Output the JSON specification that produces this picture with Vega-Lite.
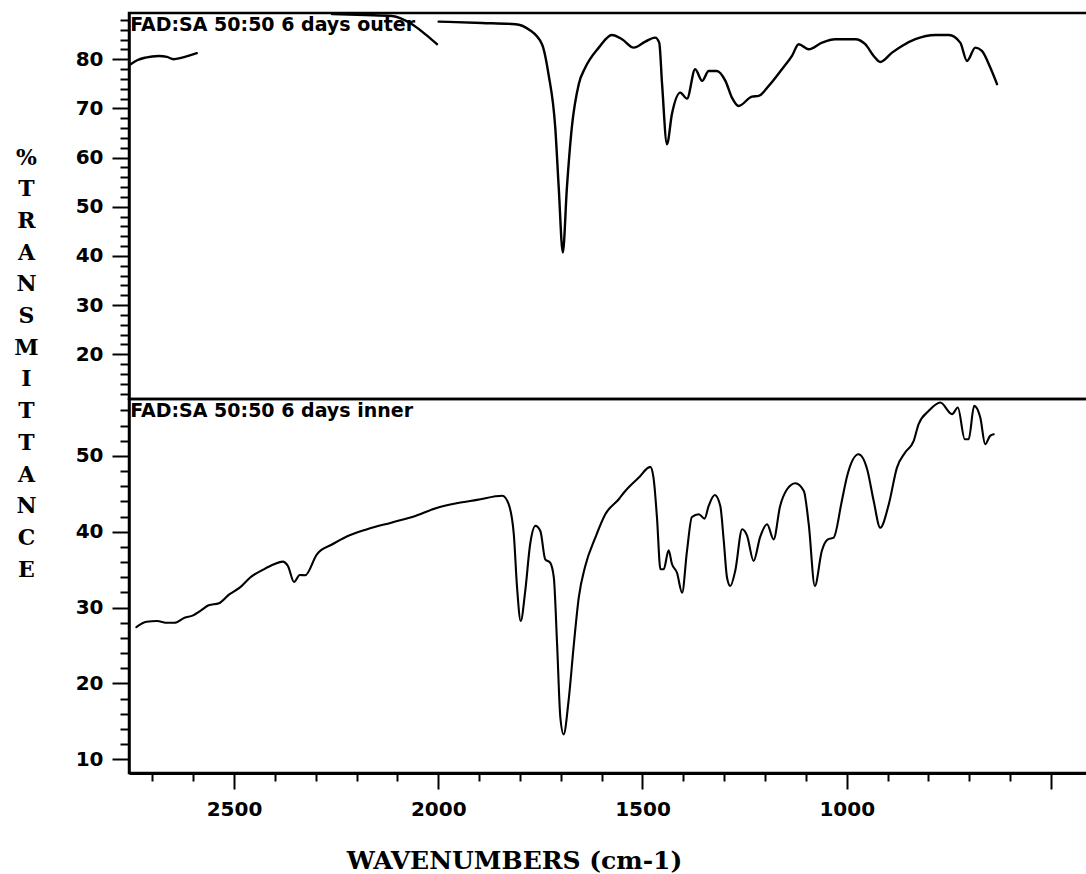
{
  "$schema": "https://vega.github.io/schema/vega-lite/v6.json",
  "background": "white",
  "padding": {"left": 12, "top": 11, "right": 0, "bottom": 0},
  "bounds": "flush",
  "spacing": 0,
  "config": {
    "view": {"stroke": "black", "strokeWidth": 2.5},
    "axis": {
      "grid": false,
      "domainColor": "black",
      "tickColor": "black",
      "labelColor": "black",
      "titleColor": "black",
      "labelFont": "DejaVu Sans",
      "labelFontWeight": "bold",
      "labelFontSize": 20,
      "labelOverlap": false,
      "labelFlush": false,
      "labelBound": false,
      "tickWidth": 2,
      "domainWidth": 2.5
    }
  },
  "datasets": {
    "outer": [
      {"trace": "a", "wavenumber": 2753, "transmittance": 78.98},
      {"trace": "a", "wavenumber": 2737, "transmittance": 79.8},
      {"trace": "a", "wavenumber": 2717, "transmittance": 80.33},
      {"trace": "a", "wavenumber": 2684, "transmittance": 80.67},
      {"trace": "a", "wavenumber": 2664, "transmittance": 80.47},
      {"trace": "a", "wavenumber": 2648, "transmittance": 80.0},
      {"trace": "a", "wavenumber": 2627, "transmittance": 80.33},
      {"trace": "a", "wavenumber": 2591, "transmittance": 81.22},
      {"trace": "b", "wavenumber": 2260, "transmittance": 89.2},
      {"trace": "b", "wavenumber": 2180, "transmittance": 89.0},
      {"trace": "b", "wavenumber": 2113, "transmittance": 88.8},
      {"trace": "b", "wavenumber": 2064, "transmittance": 87.1},
      {"trace": "b", "wavenumber": 2032, "transmittance": 85.1},
      {"trace": "b", "wavenumber": 2003, "transmittance": 83.05},
      {"trace": "c", "wavenumber": 1999, "transmittance": 87.65},
      {"trace": "c", "wavenumber": 1893, "transmittance": 87.38},
      {"trace": "c", "wavenumber": 1811, "transmittance": 87.12},
      {"trace": "c", "wavenumber": 1779, "transmittance": 86.1},
      {"trace": "c", "wavenumber": 1746, "transmittance": 83.05},
      {"trace": "c", "wavenumber": 1730, "transmittance": 76.95},
      {"trace": "c", "wavenumber": 1713.5, "transmittance": 66.09},
      {"trace": "c", "wavenumber": 1705, "transmittance": 53.89},
      {"trace": "c", "wavenumber": 1695, "transmittance": 40.67},
      {"trace": "c", "wavenumber": 1685, "transmittance": 53.89},
      {"trace": "c", "wavenumber": 1673, "transmittance": 66.09},
      {"trace": "c", "wavenumber": 1656, "transmittance": 74.92},
      {"trace": "c", "wavenumber": 1640, "transmittance": 78.3},
      {"trace": "c", "wavenumber": 1607, "transmittance": 82.36},
      {"trace": "c", "wavenumber": 1575, "transmittance": 84.94},
      {"trace": "c", "wavenumber": 1550, "transmittance": 84.07},
      {"trace": "c", "wavenumber": 1521.5, "transmittance": 82.36},
      {"trace": "c", "wavenumber": 1493, "transmittance": 83.58},
      {"trace": "c", "wavenumber": 1469, "transmittance": 84.39},
      {"trace": "c", "wavenumber": 1459, "transmittance": 83.38},
      {"trace": "c", "wavenumber": 1452, "transmittance": 74.92},
      {"trace": "c", "wavenumber": 1440, "transmittance": 62.71},
      {"trace": "c", "wavenumber": 1428, "transmittance": 68.81},
      {"trace": "c", "wavenumber": 1407.5, "transmittance": 73.2},
      {"trace": "c", "wavenumber": 1391, "transmittance": 71.99},
      {"trace": "c", "wavenumber": 1371, "transmittance": 77.97},
      {"trace": "c", "wavenumber": 1354, "transmittance": 75.59},
      {"trace": "c", "wavenumber": 1338, "transmittance": 77.62},
      {"trace": "c", "wavenumber": 1318, "transmittance": 77.62},
      {"trace": "c", "wavenumber": 1297, "transmittance": 75.59},
      {"trace": "c", "wavenumber": 1281, "transmittance": 72.2},
      {"trace": "c", "wavenumber": 1264.5, "transmittance": 70.5},
      {"trace": "c", "wavenumber": 1232, "transmittance": 72.4},
      {"trace": "c", "wavenumber": 1215.5, "transmittance": 72.54},
      {"trace": "c", "wavenumber": 1191, "transmittance": 74.57},
      {"trace": "c", "wavenumber": 1158.5, "transmittance": 77.97},
      {"trace": "c", "wavenumber": 1134, "transmittance": 80.67},
      {"trace": "c", "wavenumber": 1117.6, "transmittance": 83.05},
      {"trace": "c", "wavenumber": 1093, "transmittance": 82.03},
      {"trace": "c", "wavenumber": 1060.6, "transmittance": 83.38},
      {"trace": "c", "wavenumber": 1028, "transmittance": 84.07},
      {"trace": "c", "wavenumber": 979, "transmittance": 84.07},
      {"trace": "c", "wavenumber": 954.6, "transmittance": 83.05},
      {"trace": "c", "wavenumber": 934, "transmittance": 80.67},
      {"trace": "c", "wavenumber": 918, "transmittance": 79.45},
      {"trace": "c", "wavenumber": 889, "transmittance": 81.34},
      {"trace": "c", "wavenumber": 864.7, "transmittance": 82.7},
      {"trace": "c", "wavenumber": 832, "transmittance": 84.07},
      {"trace": "c", "wavenumber": 783, "transmittance": 84.94},
      {"trace": "c", "wavenumber": 750, "transmittance": 84.94},
      {"trace": "c", "wavenumber": 722, "transmittance": 83.38},
      {"trace": "c", "wavenumber": 705.6, "transmittance": 79.65},
      {"trace": "c", "wavenumber": 685, "transmittance": 82.36},
      {"trace": "c", "wavenumber": 669, "transmittance": 81.69},
      {"trace": "c", "wavenumber": 648.6, "transmittance": 78.3},
      {"trace": "c", "wavenumber": 632, "transmittance": 74.92}
    ],
    "inner": [
      {"wavenumber": 2739, "transmittance": 27.44},
      {"wavenumber": 2714, "transmittance": 28.14},
      {"wavenumber": 2688.5, "transmittance": 28.23},
      {"wavenumber": 2663, "transmittance": 28.0},
      {"wavenumber": 2646, "transmittance": 28.0},
      {"wavenumber": 2621, "transmittance": 28.67},
      {"wavenumber": 2600, "transmittance": 28.98},
      {"wavenumber": 2583, "transmittance": 29.55},
      {"wavenumber": 2562, "transmittance": 30.3},
      {"wavenumber": 2537, "transmittance": 30.57},
      {"wavenumber": 2511.5, "transmittance": 31.75},
      {"wavenumber": 2486, "transmittance": 32.63},
      {"wavenumber": 2461, "transmittance": 33.94},
      {"wavenumber": 2427, "transmittance": 35.05},
      {"wavenumber": 2402, "transmittance": 35.71},
      {"wavenumber": 2381, "transmittance": 36.06},
      {"wavenumber": 2368, "transmittance": 35.49},
      {"wavenumber": 2353, "transmittance": 33.38},
      {"wavenumber": 2339, "transmittance": 34.3},
      {"wavenumber": 2326, "transmittance": 34.26},
      {"wavenumber": 2297, "transmittance": 37.03},
      {"wavenumber": 2259, "transmittance": 38.35},
      {"wavenumber": 2225, "transmittance": 39.35},
      {"wavenumber": 2174, "transmittance": 40.33},
      {"wavenumber": 2115, "transmittance": 41.2},
      {"wavenumber": 2056, "transmittance": 42.08},
      {"wavenumber": 2006, "transmittance": 43.1},
      {"wavenumber": 1955, "transmittance": 43.76},
      {"wavenumber": 1905, "transmittance": 44.2},
      {"wavenumber": 1843, "transmittance": 44.75},
      {"wavenumber": 1828, "transmittance": 43.7},
      {"wavenumber": 1815, "transmittance": 39.67},
      {"wavenumber": 1807, "transmittance": 32.63},
      {"wavenumber": 1798, "transmittance": 28.23},
      {"wavenumber": 1787, "transmittance": 32.19},
      {"wavenumber": 1775, "transmittance": 38.35},
      {"wavenumber": 1762, "transmittance": 40.77},
      {"wavenumber": 1750, "transmittance": 40.1},
      {"wavenumber": 1738, "transmittance": 36.37},
      {"wavenumber": 1726, "transmittance": 35.92},
      {"wavenumber": 1717, "transmittance": 33.94},
      {"wavenumber": 1709, "transmittance": 25.16},
      {"wavenumber": 1701, "transmittance": 15.48},
      {"wavenumber": 1693, "transmittance": 13.28},
      {"wavenumber": 1681, "transmittance": 17.68},
      {"wavenumber": 1668, "transmittance": 25.16},
      {"wavenumber": 1656, "transmittance": 31.31},
      {"wavenumber": 1640, "transmittance": 35.49},
      {"wavenumber": 1615.5, "transmittance": 39.22},
      {"wavenumber": 1591, "transmittance": 42.31},
      {"wavenumber": 1558, "transmittance": 44.29},
      {"wavenumber": 1542, "transmittance": 45.38},
      {"wavenumber": 1509, "transmittance": 47.14},
      {"wavenumber": 1481, "transmittance": 48.55},
      {"wavenumber": 1473, "transmittance": 47.14},
      {"wavenumber": 1464.5, "transmittance": 41.86},
      {"wavenumber": 1456, "transmittance": 35.05},
      {"wavenumber": 1448, "transmittance": 35.05},
      {"wavenumber": 1436, "transmittance": 37.56},
      {"wavenumber": 1428, "transmittance": 35.79},
      {"wavenumber": 1415.5, "transmittance": 34.6},
      {"wavenumber": 1403, "transmittance": 31.97},
      {"wavenumber": 1391, "transmittance": 37.47},
      {"wavenumber": 1379, "transmittance": 41.95},
      {"wavenumber": 1362, "transmittance": 42.31},
      {"wavenumber": 1348, "transmittance": 41.73},
      {"wavenumber": 1338, "transmittance": 43.4},
      {"wavenumber": 1323, "transmittance": 44.85},
      {"wavenumber": 1309.5, "transmittance": 43.4},
      {"wavenumber": 1301, "transmittance": 38.79},
      {"wavenumber": 1293, "transmittance": 33.94},
      {"wavenumber": 1285, "transmittance": 32.85},
      {"wavenumber": 1273, "transmittance": 34.83},
      {"wavenumber": 1256, "transmittance": 40.33},
      {"wavenumber": 1244, "transmittance": 39.5},
      {"wavenumber": 1228, "transmittance": 36.15},
      {"wavenumber": 1212, "transmittance": 39.3},
      {"wavenumber": 1195, "transmittance": 40.99},
      {"wavenumber": 1179, "transmittance": 39.0},
      {"wavenumber": 1163, "transmittance": 43.4},
      {"wavenumber": 1146, "transmittance": 45.6},
      {"wavenumber": 1126, "transmittance": 46.4},
      {"wavenumber": 1105, "transmittance": 45.38},
      {"wavenumber": 1093, "transmittance": 40.99},
      {"wavenumber": 1078, "transmittance": 32.85},
      {"wavenumber": 1061, "transmittance": 37.47},
      {"wavenumber": 1046, "transmittance": 39.0},
      {"wavenumber": 1032, "transmittance": 39.22},
      {"wavenumber": 1012, "transmittance": 44.06},
      {"wavenumber": 999, "transmittance": 47.36},
      {"wavenumber": 971, "transmittance": 50.22},
      {"wavenumber": 950, "transmittance": 48.25},
      {"wavenumber": 934, "transmittance": 44.06},
      {"wavenumber": 918, "transmittance": 40.54},
      {"wavenumber": 897, "transmittance": 43.63},
      {"wavenumber": 877, "transmittance": 48.46},
      {"wavenumber": 857, "transmittance": 50.44},
      {"wavenumber": 836, "transmittance": 51.98},
      {"wavenumber": 824, "transmittance": 54.18},
      {"wavenumber": 799, "transmittance": 55.94},
      {"wavenumber": 771, "transmittance": 57.03},
      {"wavenumber": 742, "transmittance": 55.5},
      {"wavenumber": 728, "transmittance": 56.37},
      {"wavenumber": 711, "transmittance": 52.2},
      {"wavenumber": 701.5, "transmittance": 52.2},
      {"wavenumber": 688, "transmittance": 56.6},
      {"wavenumber": 673, "transmittance": 55.05},
      {"wavenumber": 661, "transmittance": 51.54},
      {"wavenumber": 649, "transmittance": 52.64},
      {"wavenumber": 640, "transmittance": 52.86}
    ]
  },
  "vconcat": [
    {
      "width": 962,
      "height": 386,
      "resolve": {"axis": {"y": "independent"}},
      "layer": [
        {
          "data": {"name": "outer"},
          "mark": {"type": "line", "interpolate": "monotone", "stroke": "black", "strokeWidth": 2.4, "strokeJoin": "round", "strokeCap": "round"},
          "encoding": {
            "x": {"field": "wavenumber", "type": "quantitative", "scale": {"domain": [2757, 402], "nice": false, "zero": false}, "axis": null},
            "y": {
              "field": "transmittance",
              "type": "quantitative",
              "scale": {"domain": [10.9, 89.4], "nice": false, "zero": false},
              "axis": {
                "orient": "left",
                "values": [20, 30, 40, 50, 60, 70, 80],
                "tickSize": 17,
                "labelPadding": 9,
                "title": ["%", "T", "R", "A", "N", "S", "M", "I", "T", "T", "A", "N", "C", "E"],
                "titleAngle": 0,
                "titleAlign": "center",
                "titleBaseline": "alphabetic",
                "titleX": -103,
                "titleY": 151,
                "titleLineHeight": 31.7,
                "titleFont": "DejaVu Serif",
                "titleFontWeight": "bold",
                "titleFontSize": 22
              }
            },
            "detail": {"field": "trace", "type": "nominal"}
          }
        },
        {
          "data": {"values": [{}]},
          "mark": {"type": "text", "align": "left", "baseline": "alphabetic", "font": "DejaVu Sans", "fontWeight": "bold", "fontSize": 19, "color": "black"},
          "encoding": {
            "x": {"datum": 2754, "axis": null},
            "y": {
              "datum": 85.8,
              "axis": {
                "orient": "left",
                "values": [12, 14, 16, 18, 22, 24, 26, 28, 32, 34, 36, 38, 42, 44, 46, 48, 52, 54, 56, 58, 62, 64, 66, 68, 72, 74, 76, 78, 82, 84, 86, 88],
                "tickSize": 9,
                "labels": false,
                "domain": false,
                "title": null
              }
            },
            "text": {"value": "FAD:SA 50:50 6 days outer"}
          }
        }
      ]
    },
    {
      "width": 962,
      "height": 374,
      "resolve": {"axis": {"x": "independent", "y": "independent"}},
      "layer": [
        {
          "data": {"name": "inner"},
          "mark": {"type": "line", "interpolate": "monotone", "stroke": "black", "strokeWidth": 2.1, "strokeJoin": "round", "strokeCap": "round"},
          "encoding": {
            "x": {
              "field": "wavenumber",
              "type": "quantitative",
              "scale": {"domain": [2757, 402], "nice": false, "zero": false},
              "axis": {
                "orient": "bottom",
                "values": [2500, 2000, 1500, 1000, 500],
                "format": "d",
                "labelExpr": "datum.value > 500 ? datum.label : ''",
                "tickSize": 16,
                "labelPadding": 10,
                "domainWidth": 3,
                "title": "WAVENUMBERS (cm-1)",
                "titleFont": "DejaVu Serif",
                "titleFontWeight": "bold",
                "titleFontSize": 25,
                "titleAlign": "center",
                "titleBaseline": "alphabetic",
                "titleX": 385,
                "titleY": 95
              }
            },
            "y": {
              "field": "transmittance",
              "type": "quantitative",
              "scale": {"domain": [8.2, 57.5], "nice": false, "zero": false},
              "axis": {
                "orient": "left",
                "values": [10, 20, 30, 40, 50],
                "tickSize": 17,
                "labelPadding": 9,
                "title": null
              }
            }
          }
        },
        {
          "data": {"values": [{}]},
          "mark": {"type": "text", "align": "left", "baseline": "alphabetic", "font": "DejaVu Sans", "fontWeight": "bold", "fontSize": 19, "color": "black"},
          "encoding": {
            "x": {
              "datum": 2754,
              "axis": {
                "orient": "bottom",
                "values": [2700, 2600, 2400, 2300, 2200, 2100, 1900, 1800, 1700, 1600, 1400, 1300, 1200, 1100, 900, 800, 700, 600],
                "tickSize": 8,
                "labels": false,
                "domain": false,
                "title": null
              }
            },
            "y": {
              "datum": 55.15,
              "axis": {
                "orient": "left",
                "values": [12, 14, 16, 18, 22, 24, 26, 28, 32, 34, 36, 38, 42, 44, 46, 48, 52, 54, 56],
                "tickSize": 9,
                "labels": false,
                "domain": false,
                "title": null
              }
            },
            "text": {"value": "FAD:SA 50:50 6 days inner"}
          }
        }
      ]
    }
  ]
}
